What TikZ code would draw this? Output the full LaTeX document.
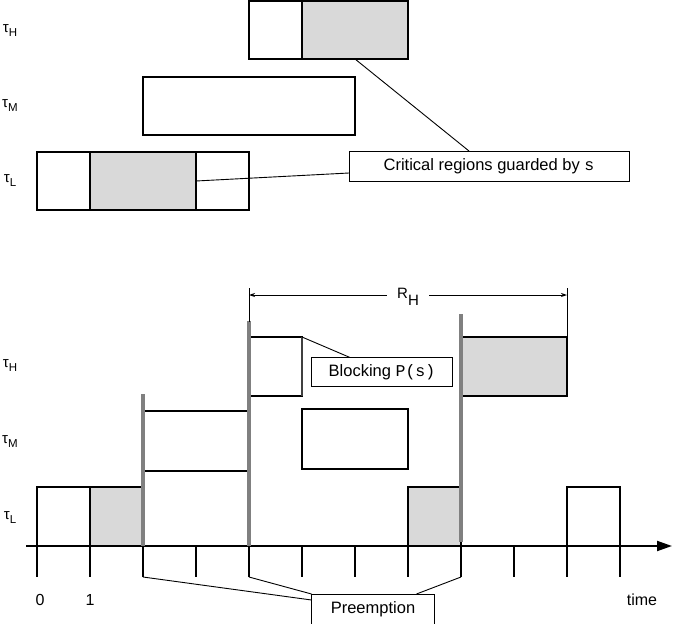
\documentclass[tikz,border=0pt]{standalone}
\usepackage{fontspec}
\setmainfont{Liberation Sans}
\setmonofont{Liberation Mono}
\usetikzlibrary{arrows.meta,positioning,calc}
\definecolor{critc}{HTML}{D9D9D9}
\definecolor{prec}{HTML}{808080}
\newcommand{\tsk}[1]{{\fontsize{15}{16}\selectfont τ}\raisebox{-4pt}{\fontsize{11.5}{13}\selectfont #1}}

\begin{document}
\begin{tikzpicture}[x=1pt,y=-1pt,
    seg/.style={draw,line width=2.1pt,inner sep=0pt,outer sep=0pt,anchor=north west,minimum height=59pt},
    crit/.style={seg,fill=critc},
    note/.style={draw,line width=0.9pt,fill=white,inner sep=0pt,outer sep=0pt,minimum height=29pt,font=\fontsize{16.5}{18}\selectfont},
    lbl/.style={inner sep=0pt},
    thinln/.style={line width=0.9pt},
    preempt/.style={draw=prec,line width=3.2pt},
    >={Stealth[length=6pt,width=4pt]}]
  \useasboundingbox (0,0) rectangle (673,624);

  % tasks with their critical regions
  \node[lbl] (tHa) at (10,31) {\tsk{H}};
  \node[lbl] (tMa) at (10,106) {\tsk{M}};
  \node[lbl] (tLa) at (10,181) {\tsk{L}};
  \node[seg,minimum width=53pt,minimum height=58pt] (hA) at (249,1) {};
  \node[crit,minimum width=106pt,minimum height=58pt,right=0pt of hA] (hB) {};
  \node[seg,minimum width=212pt,minimum height=58pt] (mA) at (143,77) {};
  \node[seg,minimum width=53pt,minimum height=58pt] (lA) at (37,152) {};
  \node[crit,minimum width=106pt,minimum height=58pt,right=0pt of lA] (lB) {};
  \node[seg,minimum width=53pt,minimum height=58pt,right=0pt of lB] (lC) {};
  \node[note,minimum width=280pt,minimum height=30pt] (cr) at (489,166) {Critical regions guarded by \texttt{s}};
  \draw[thinln] (hB.south) -- ([xshift=-20pt]cr.north);
  \draw[thinln] (lC.west) -- ([yshift=-7pt]cr.west);

  % schedule
  \node[lbl] (tHb) at (10,366) {\tsk{H}};
  \node[lbl] (tMb) at (10,442) {\tsk{M}};
  \node[lbl] (tLb) at (10,518) {\tsk{L}};
  \node[seg,minimum width=53pt] (b0) at (37,487) {};
  \node[crit,minimum width=53pt,right=0pt of b0] (b1) {};
  \node[crit,minimum width=53pt] (b7) at (408,487) {};
  \node[seg,minimum width=53pt] (b10) at (567,487) {};
  \draw[line width=2.1pt] (143,411) -- (249,411) (143,471) -- (249,471);
  \node[seg,minimum width=106pt,minimum height=60pt] (m5) at (302,409) {};
  \node[seg,minimum width=53pt] (h4) at (249,337) {};
  \node[crit,minimum width=106pt] (h8) at (461,337) {};
  \draw[line width=2.8pt,black!75] (h4.north east) -- (h4.south east);

  \coordinate (o) at (26,546);
  \coordinate (tEnd) at (672,546);
  \draw[line width=2pt,-{Triangle[length=15pt,width=10pt]}] (o) -- (tEnd);
  \foreach \i in {0,...,11}
    \draw[line width=1.5pt] (37+53*\i,546) -- ++(0,31) coordinate (tb\i);
  \draw[preempt] (143,394) -- (143,546);
  \draw[preempt] (249,321) -- (249,546);
  \draw[preempt] (461,314) -- (461,542);

  % response time of tau_H
  \coordinate (rL) at (249,295);
  \coordinate (rR) at (567,295);
  \node[inner sep=10pt,anchor=base west,font=\fontsize{15}{17}\selectfont] (rh) at (387,298) {R\raisebox{-7pt}{H}};
  \draw[thinln,<-] (rL) -- (rL -| rh.west);
  \draw[thinln,->] (rR -| rh.east) -- (rR);
  \draw[thinln] (249,288) -- (249,322);
  \draw[thinln] (567,288) -- (h8.north east);

  \node[note,minimum width=141pt] (blk) at (382,372) {Blocking \texttt{P(s)}};
  \draw[thinln] (h4.north east) -- ([xshift=-32pt]blk.north);

  \node[note,minimum width=123pt,minimum height=30pt] (pre) at (373,609) {Preemption};
  \draw[thinln] (tb2) -- ([yshift=9pt]pre.west);
  \draw[thinln] (tb4) -- (pre.north west);
  \draw[thinln] (tb8) -- ([xshift=-18pt]pre.north east);

  \node[font=\fontsize{16}{18}\selectfont] (n0) at (40,600) {0};
  \node[font=\fontsize{16}{18}\selectfont] (n1) at (90,600) {1};
  \node[font=\fontsize{16}{18}\selectfont] (ntime) at (642,600) {time};
\end{tikzpicture}
\end{document}
